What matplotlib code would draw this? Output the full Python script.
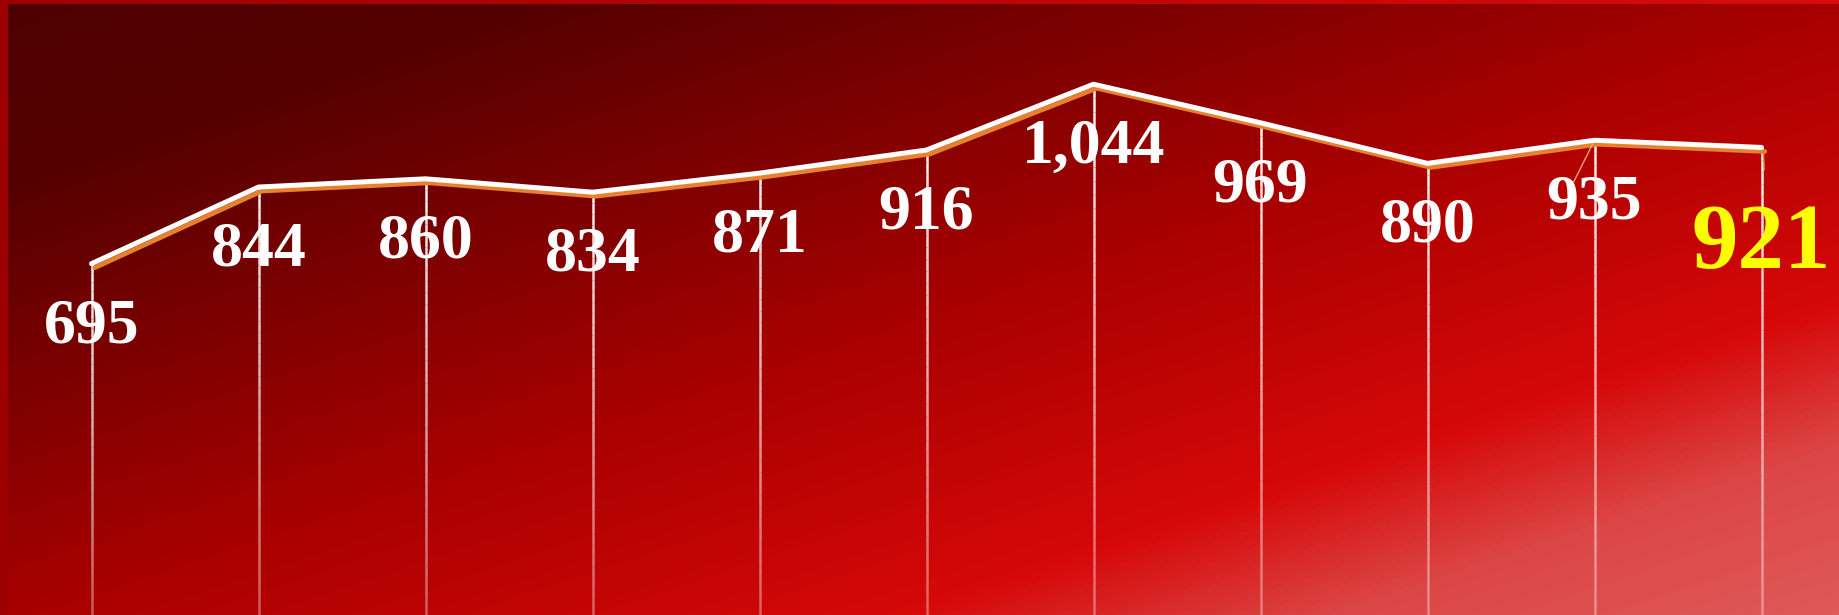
import numpy as np
import matplotlib
matplotlib.use('Agg')
import matplotlib.pyplot as plt
from matplotlib.colors import LinearSegmentedColormap
from matplotlib.collections import LineCollection
from matplotlib.transforms import ScaledTranslation

# Data
values = [695, 844, 860, 834, 871, 916, 1044, 969, 890, 935, 921]
labels = ['695', '844', '860', '834', '871', '916', '1,044', '969', '890', '935', '921']
highlight = 10  # last point drawn in yellow

W, H, DPI = 1839, 615, 100
fig = plt.figure(figsize=(W / DPI, H / DPI), dpi=DPI)

# Outer frame: horizontal red gradient behind everything
bg = fig.add_axes([0, 0, 1, 1])
bg.set_axis_off()
frame_cmap = LinearSegmentedColormap.from_list('frame', ['#9c0000', '#d80c0c'])
bg.imshow(np.linspace(0, 1, 256).reshape(1, -1), cmap=frame_cmap, aspect='auto',
          extent=[0, 1, 0, 1])

# Plot area inset 8px left, 4px top; y=0 sits slightly below the bottom edge
left = 8 / W
ax = fig.add_axes([left, -6 / H, 1837 / W, 617 / H])
ax.set_xlim(-0.5, len(values) - 0.5)
ax.set_ylim(0, 1200)
ax.set_axis_off()

# Diagonal gradient fill for the plot area (row 0 = top)
gw, gh = 1837, 617
xx, yy = np.meshgrid(np.linspace(0, gw, 400), np.linspace(0, gh, 200))
t = 0.334 * xx + yy
t = t / t.max()
grad_cmap = LinearSegmentedColormap.from_list('grad', [
    (0.0, '#4e0000'), (0.15, '#560000'), (0.5, '#a80000'),
    (0.74, '#d60808'), (0.86, '#dc4646'), (1.0, '#e05a5a')])
ax.imshow(t, cmap=grad_cmap, aspect='auto', extent=[0, 1, 0, 1],
          origin='upper', transform=ax.transAxes, zorder=0)

x = np.arange(len(values))

# Drop lines fading toward the bottom
for xi, v in zip(x, values):
    ys = np.linspace(v, 0, 40)
    segs = [[(xi, ys[i]), (xi, ys[i + 1])] for i in range(len(ys) - 1)]
    alphas = np.linspace(0.95, 0.35, len(segs))
    cols = [(1, 1, 1, a) for a in alphas]
    ax.add_collection(LineCollection(segs, colors=cols, linewidths=1.8, zorder=2))

# Orange shadow line, offset down-right, then the white line on top
shift = ax.transData + ScaledTranslation(3.3 / DPI, -4 / DPI, fig.dpi_scale_trans)
ax.plot(x, values, color='#e8802e', lw=3.4, transform=shift, zorder=3,
        solid_capstyle='round', solid_joinstyle='round')
ax.plot(x, values, color='white', lw=3.6, zorder=4,
        solid_capstyle='round', solid_joinstyle='round')

# Small orange leader strokes near the last two points
ax.annotate('', xy=(x[9], values[9]), xytext=(-16, -32), textcoords='offset points',
            arrowprops=dict(arrowstyle='-', color='#f0a070', lw=1.0), zorder=3)
ax.annotate('', xy=(x[10] + 0.01, values[10]), xytext=(1, -18), textcoords='offset points',
            arrowprops=dict(arrowstyle='-', color='#e8802e', lw=1.0), zorder=3)

# Value labels
for i, (xi, v, lab) in enumerate(zip(x, values, labels)):
    if i == highlight:
        ax.annotate(lab, (xi, v), xytext=(0, -87), textcoords='offset points',
                    ha='center', va='baseline', color='#ffff00', fontsize=67,
                    fontweight='bold', family='Liberation Serif', zorder=5)
    else:
        ax.annotate(lab, (xi, v), xytext=(0, -56.5), textcoords='offset points',
                    ha='center', va='baseline', color='white', fontsize=46,
                    fontweight='bold', family='Liberation Serif', zorder=5)

fig.savefig('out.png', dpi=DPI)
